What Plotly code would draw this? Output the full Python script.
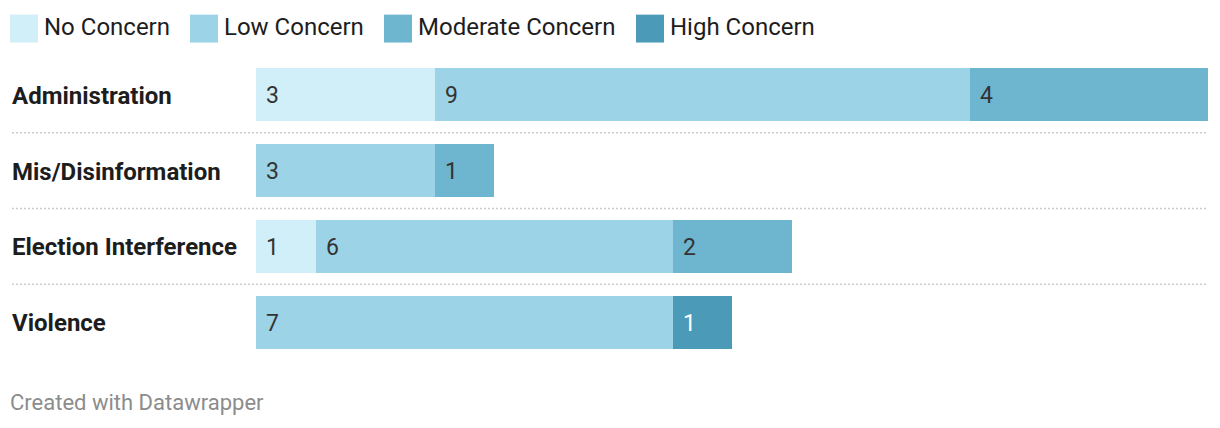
import plotly.graph_objects as go

categories = ["Administration", "Mis/Disinformation", "Election Interference", "Violence"]
series_names = ["No Concern", "Low Concern", "Moderate Concern", "High Concern"]
no_concern = [3, 0, 1, 0]
low_concern = [9, 3, 6, 7]
moderate_concern = [4, 1, 2, 0]
high_concern = [0, 0, 0, 1]
series_values = [no_concern, low_concern, moderate_concern, high_concern]

colors = ["#d1eff9", "#9dd3e7", "#6eb6cf", "#4a9ab8"]
label_colors = ["#333333", "#333333", "#333333", "#ffffff"]

OFF = 8  # page body margin
W, H = 1220 - OFF, 428 - OFF
ML, MR = 256 - OFF, 12
MT = 56.5 - OFF
MB = H - (360.5 - OFF)
PW = W - ML - MR
PH = H - MT - MB


def px(xp):
    return (xp - OFF - ML) / PW


def py(yp):
    return (H - MB - (yp - OFF)) / PH


fig = go.Figure()
for name, vals, col in zip(series_names, series_values, colors):
    fig.add_trace(go.Bar(
        y=categories, x=vals, name=name, orientation="h",
        marker=dict(color=col, line=dict(width=0)),
        width=0.697, showlegend=False, hoverinfo="skip"))

annotations = []
shapes = []
FONT = "Roboto"

# value labels
for ci, cat in enumerate(categories):
    start = 0
    for si, vals in enumerate(series_values):
        v = vals[ci]
        if v > 0:
            annotations.append(dict(
                x=start, y=cat, xref="x", yref="y", text=str(v),
                showarrow=False, xanchor="left", yanchor="middle", xshift=8, yshift=-1,
                font=dict(family=FONT, size=23, color=label_colors[si])))
        start += v

# category labels
for cat in categories:
    annotations.append(dict(
        x=px(10), y=cat, xref="paper", yref="y", text="<b>" + cat + "</b>",
        showarrow=False, xanchor="left", yanchor="middle", yshift=-1,
        font=dict(family=FONT, size=24, color="#1d1d1d")))

# dotted separators
for i in range(len(categories) - 1):
    shapes.append(dict(
        type="line", xref="paper", yref="y", x0=px(12), x1=1,
        y0=i + 0.5, y1=i + 0.5,
        line=dict(color="#cccccc", width=1.5, dash="2px,2px")))

# legend (custom)
legend_x = [10, 190, 384, 636]
for name, col, lx in zip(series_names, colors, legend_x):
    shapes.append(dict(
        type="rect", xref="paper", yref="paper",
        x0=px(lx), x1=px(lx + 28),
        y0=py(14), y1=py(42),
        fillcolor=col, line=dict(width=0)))
    annotations.append(dict(
        x=px(lx + 32), y=py(26), xref="paper", yref="paper",
        text=name, showarrow=False, xanchor="left", yanchor="middle",
        font=dict(family=FONT, size=24, color="#1d1d1d")))

# footer
annotations.append(dict(
    x=px(8), y=py(403), xref="paper", yref="paper",
    text="Created with Datawrapper", showarrow=False, xanchor="left", yanchor="middle",
    font=dict(family=FONT, size=22, color="#8c8c8c")))

fig.update_layout(
    barmode="stack", width=W, height=H,
    margin=dict(l=ML, r=MR, t=MT, b=MB, pad=0),
    paper_bgcolor="white", plot_bgcolor="white",
    xaxis=dict(range=[0, 16], visible=False, fixedrange=True),
    yaxis=dict(categoryorder="array", categoryarray=categories, autorange=False,
               range=[3.5, -0.5], visible=False, fixedrange=True),
    annotations=annotations, shapes=shapes, showlegend=False,
    font=dict(family=FONT),
)

fig.write_html("out.html", config={"displayModeBar": False})
